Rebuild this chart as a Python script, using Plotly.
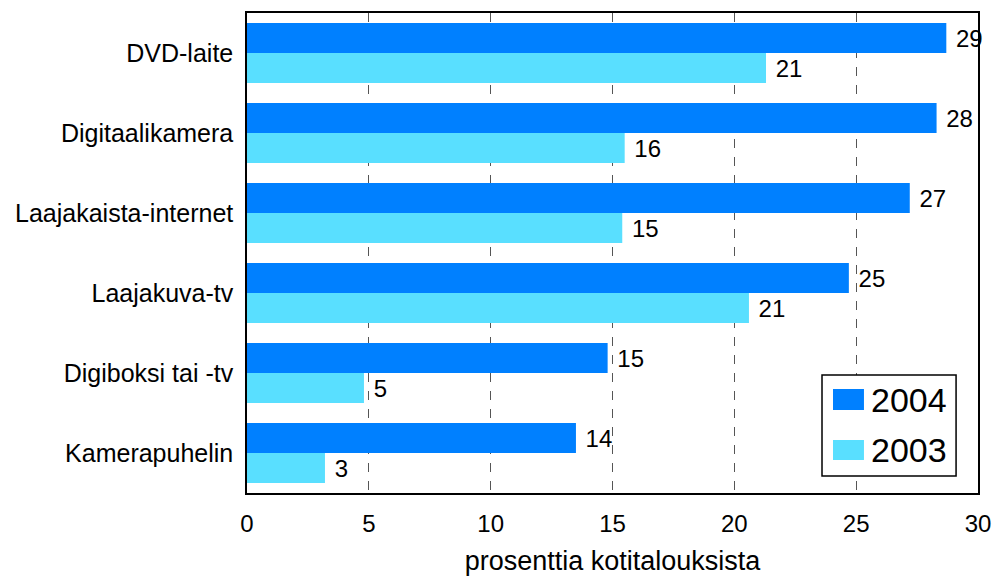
import plotly.graph_objects as go

categories = ["DVD-laite", "Digitaalikamera", "Laajakaista-internet",
              "Laajakuva-tv", "Digiboksi tai -tv", "Kamerapuhelin"]
values_2004 = [28.7, 28.3, 27.2, 24.7, 14.8, 13.5]
values_2003 = [21.3, 15.5, 15.4, 20.6, 4.8, 3.2]
labels_2004 = ["29", "28", "27", "25", "15", "14"]
labels_2003 = ["21", "16", "15", "21", "5", "3"]
x_ticks = [0, 5, 10, 15, 20, 25, 30]
series_names = ["2004", "2003"]
series_colors = ["#0080FF", "#59DFFF"]

font = "Liberation Sans, Arial, sans-serif"

fig = go.Figure()
for name, vals, labs, col in zip(series_names, [values_2004, values_2003],
                                 [labels_2004, labels_2003], series_colors):
    fig.add_trace(go.Bar(
        y=categories, x=vals, orientation="h", name=name, showlegend=False,
        marker=dict(color=col, line=dict(width=0)),
        text=labs, texttemplate=" %{text}", textposition="outside", cliponaxis=False,
        constraintext="none", textfont=dict(size=24, color="black", family=font),
    ))

# custom legend (box, swatches, labels) in plot-area paper coordinates
fig.add_shape(type="rect", xref="paper", yref="paper",
              x0=0.7866, x1=0.970, y0=0.0354, y1=0.2458,
              line=dict(color="black", width=1.5), fillcolor="white", layer="above")
swatch_y = [(0.1729, 0.2167), (0.0688, 0.1104)]
text_y = [0.1938, 0.0896]
for name, col, (y0, y1), ty in zip(series_names, series_colors, swatch_y, text_y):
    fig.add_shape(type="rect", xref="paper", yref="paper",
                  x0=0.8016, x1=0.844, y0=y0, y1=y1,
                  line=dict(width=0), fillcolor=col, layer="above")
    fig.add_annotation(xref="paper", yref="paper", x=0.851, y=ty,
                       xanchor="left", yanchor="middle", text=name, showarrow=False,
                       font=dict(size=34, family=font, color="black"))

fig.update_layout(
    width=996, height=577,
    margin=dict(l=247, r=18, t=13, b=84),
    barmode="group", bargap=0.25, bargroupgap=0,
    plot_bgcolor="white", paper_bgcolor="white",
    font=dict(family=font, size=24, color="black"),
    showlegend=False,
    xaxis=dict(
        range=[0, 30], tickvals=x_ticks, ticktext=[str(t) for t in x_ticks],
        showgrid=True, gridcolor="#555555", griddash="dash", gridwidth=1.2,
        showline=True, linecolor="black", linewidth=1.5, mirror=True,
        zeroline=False, ticks="", automargin=False, ticklabelstandoff=8,
        tickfont=dict(size=24, family=font),
        title=dict(text="prosenttia kotitalouksista", font=dict(size=27, family=font),
                   standoff=16),
    ),
    yaxis=dict(
        autorange="reversed", showgrid=False,
        showline=True, linecolor="black", linewidth=1.5, mirror=True,
        ticks="", ticklabelstandoff=7, automargin=False,
        tickfont=dict(size=25, family=font),
    ),
)

fig.write_html("out.html",
               config={"displayModeBar": False},
               post_script="document.body.style.margin='0';"
                           "document.body.style.overflow='hidden';")
